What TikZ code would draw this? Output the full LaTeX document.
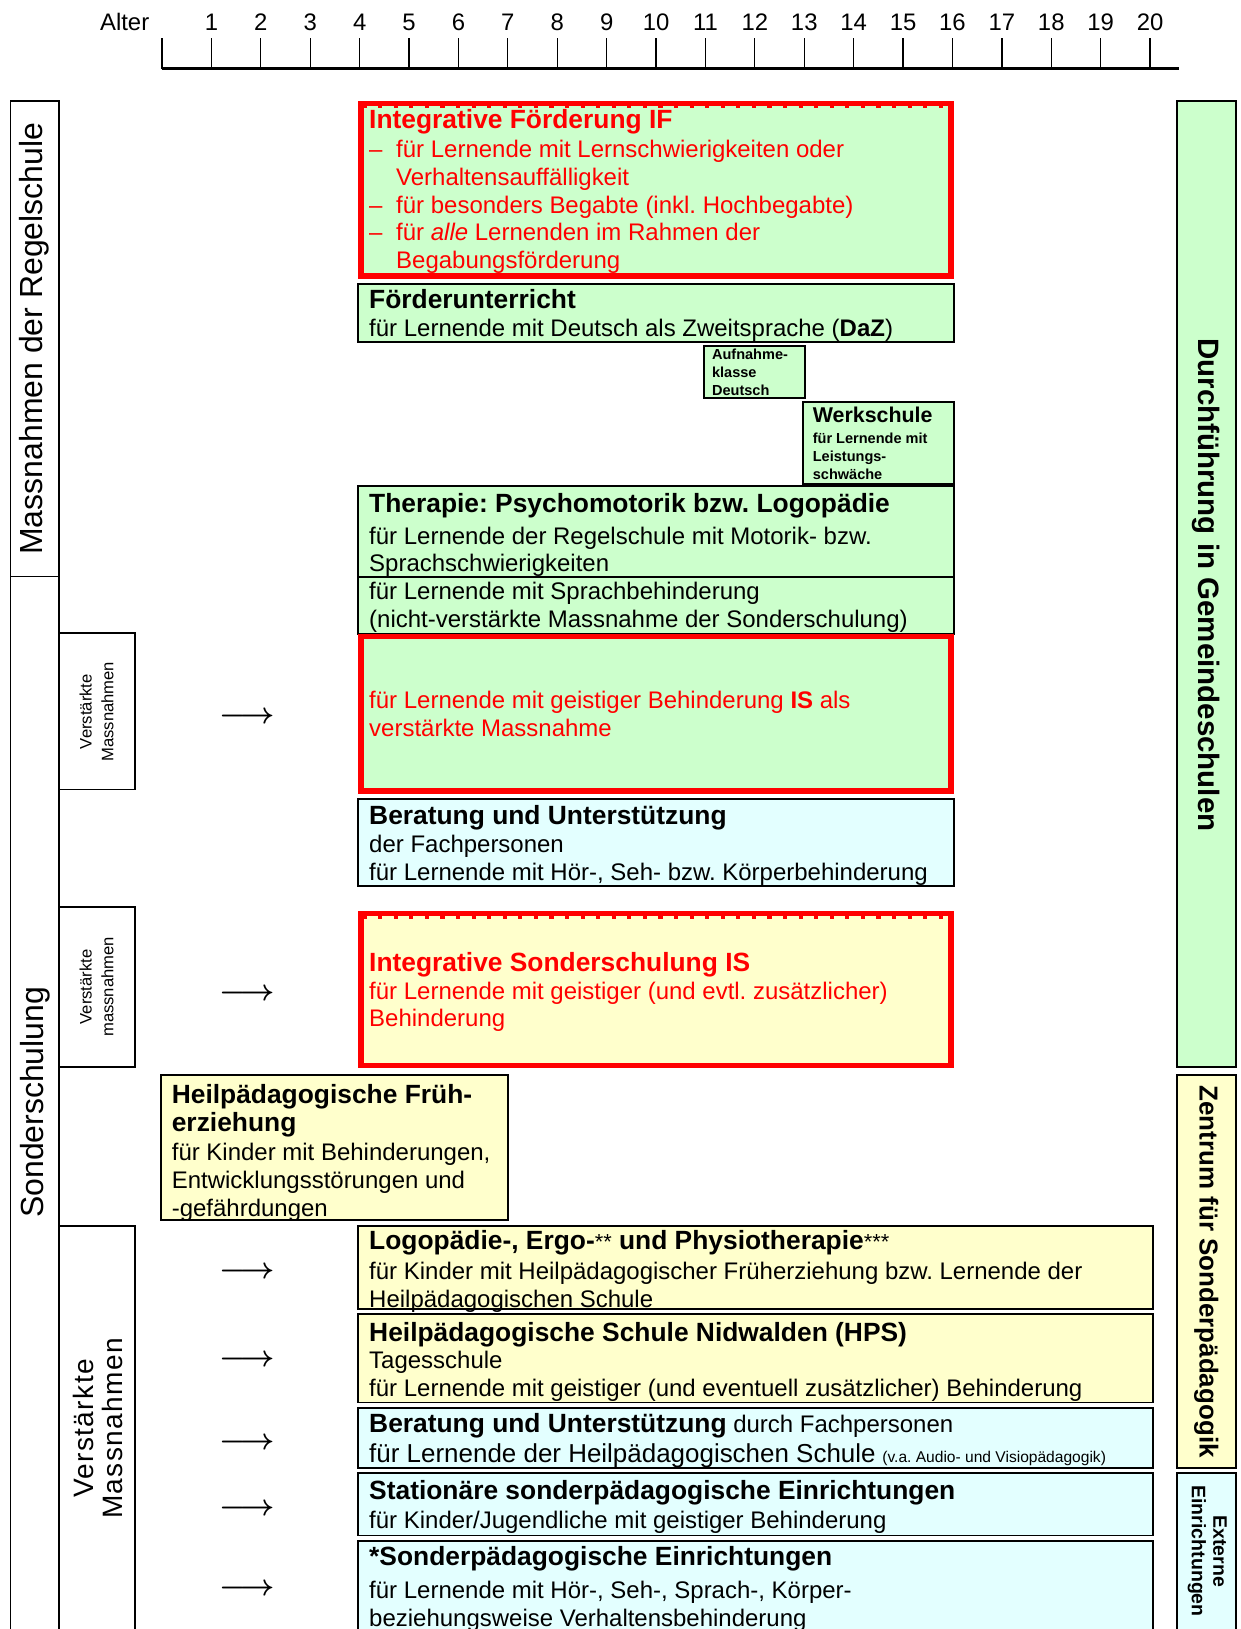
\documentclass[tikz,border=0pt]{standalone}
\usepackage{fontspec}
\setmainfont{Liberation Sans}
\usepackage{tikz}
\usetikzlibrary{positioning}
\usepackage{xcolor}

\definecolor{hgruen}{HTML}{CCFFCC}
\definecolor{hgelb}{HTML}{FFFFCC}
\definecolor{htuerkis}{HTML}{E3FFFF}

\newcommand{\titel}{\fontsize{12.7}{13.36}\selectfont\bfseries}
\newcommand{\strich}{\makebox[4.57mm][l]{--}}
\newcommand{\einzug}{\hspace*{4.57mm}}
\frenchspacing

\begin{document}
\begin{tikzpicture} [x=0.17585mm, y=-0.17585mm,
        feld/.style = {draw, line width=0.9pt},
        rotfeld/.style = {draw=red, line width=2.6pt},
        rand/.style = {draw, line width=0.8pt},
        txt/.style = {anchor=base west, align=flush left, inner sep=0pt, text width=140mm, font=\fontsize{11.55}{13.36}\selectfont},
        mini/.style = {anchor=base west, align=flush left, inner sep=0pt, text width=25mm, font=\fontsize{7}{8.6}\selectfont\bfseries},
        achse/.style = {anchor=base, inner sep=0pt, font=\fontsize{11.5}{13}\selectfont},
        seite/.style = {align=flush center, inner sep=0pt, font=\fontsize{15.4}{18}\selectfont},
        klein/.style = {align=flush center, inner sep=0pt, font=\fontsize{8}{10.5}\selectfont},
        rechts/.style = {rotate=-90, align=flush center, inner sep=0pt, font=\fontsize{14.2}{17}\selectfont\bfseries},
        pfeil/.style = {inner sep=0pt, font=\fontsize{15}{15}\selectfont\boldmath}]
        \useasboundingbox (0,0) rectangle (1194,1568);

        %Zeitachse
        \node[achse] (alter) at (120,29) {Alter};
        \draw[line width=1.2pt] (156,66) -- (1135,66);
        \draw[line width=0.6pt] (156,37) -- (156,66);
        \foreach \i in {1,...,20} {
            \node[achse] (n\i) at (156+\i*47.55,29) {\i};
            \draw[line width=0.6pt] (156+\i*47.55,37) -- (156+\i*47.55,66);
        }

        %linke Spalten
        \draw[rand] (10,97) rectangle (57,555);
        \draw[rand] (10,555) rectangle (57,1580);
        \draw[rand] (57,609) rectangle (130,760);
        \draw[rand] (57,873) rectangle (130,1027);
        \draw[rand] (57,1180) rectangle (130,1580);

        \node[seite, rotate=90] (regel) at (33,326) {Massnahmen der Regelschule};
        \node[seite, rotate=90] (sonder) at (34,1061) {Sonderschulung};
        \node[klein, rotate=90] (vm1) at (93,685) {Verstärkte\\Massnahmen};
        \node[klein, rotate=90] (vm2) at (93,950) {Verstärkte\\massnahmen};
        \node[seite, rotate=90, font=\fontsize{13.5}{14}\selectfont\addfontfeatures{LetterSpace=5}] (vm3) at (94,1375) {Verstärkte\\Massnahmen};

        %rechte Spalte
        \draw[rand, fill=hgruen] (1133,97) rectangle (1190,1027);
        \draw[rand, fill=hgelb] (1133,1035) rectangle (1190,1413);
        \draw[rand, fill=htuerkis] (1133,1418) rectangle (1190,1580);

        \node[rechts] (gemeinde) at (1161,563) {Durchführung in Gemeindeschulen};
        \node[rechts, font=\fontsize{12.5}{15}\selectfont\bfseries] (zentrum) at (1161,1224) {Zentrum für Sonderpädagogik};
        \node[rechts, font=\fontsize{9.4}{10.4}\selectfont\bfseries] (extern) at (1162,1493) {Externe\\Einrichtungen};

        %Regelschule
        \draw[rotfeld, fill=hgruen] (347.5,99.5) rectangle (915.5,265.5);
        \draw[red, line width=1.2pt, dash pattern=on 2pt off 5.5pt] (349,103) -- (914,103);
        \node[txt, text=red] (if) at (355,124) {{\titel Integrative Förderung IF}\\[0.5pt]
            \strich für Lernende mit Lernschwierigkeiten oder\\
            \einzug Verhaltensauffälligkeit\\
            \strich für besonders Begabte (inkl. Hochbegabte)\\
            \strich für \textit{alle} Lernenden im Rahmen der\\
            \einzug Begabungsförderung};

        \draw[feld, fill=hgruen] (345,273) rectangle (918,329);
        \node[txt] (daz) at (355,297) {{\titel Förderunterricht}\\
            für Lernende mit Deutsch als Zweitsprache (\textbf{DaZ})};

        \draw[feld, fill=hgruen] (678,333) rectangle (775,383);
        \node[mini] (aufnahme) at (685,346) {Aufnahme-\\klasse\\Deutsch};

        \draw[feld, fill=hgruen] (773,387) rectangle (918,466);
        \node[mini] (werk) at (782,407) {{\fontsize{10.3}{8.6}\selectfont Werkschule}\\[1.5pt]
            für Lernende mit\\Leistungs-\\schwäche};

        \draw[feld, fill=hgruen] (345,468) rectangle (918,555);
        \node[txt] (therapie) at (355,493) {{\titel Therapie: Psychomotorik bzw. Logopädie}\\[2pt]
            für Lernende der Regelschule mit Motorik- bzw.\\
            Sprachschwierigkeiten};

        %Sonderschulung
        \draw[feld, fill=hgruen] (345,555) rectangle (918,610);
        \node[txt] (sprach) at (355,577) {für Lernende mit Sprachbehinderung\\
            (nicht-verstärkte Massnahme der Sonderschulung)};

        \draw[rotfeld, fill=hgruen] (347.5,612.5) rectangle (915.5,761.5);
        \node[txt, text=red] (isgr) at (355,682) {für Lernende mit geistiger Behinderung \textbf{IS} als\\
            verstärkte Massnahme};

        \draw[feld, fill=htuerkis] (345,769) rectangle (918,853);
        \node[txt] (beratung) at (355,794) {{\titel Beratung und Unterstützung}\\
            der Fachpersonen\\
            für Lernende mit Hör-, Seh- bzw. Körperbehinderung};

        \draw[rotfeld, fill=hgelb] (347.5,879.5) rectangle (915.5,1025.5);
        \draw[red, line width=1.2pt, dash pattern=on 2pt off 5.5pt] (349,883) -- (914,883);
        \node[txt, text=red] (isgelb) at (355,935) {{\titel Integrative Sonderschulung IS}\\
            für Lernende mit geistiger (und evtl. zusätzlicher)\\
            Behinderung};

        \draw[feld, fill=hgelb] (155,1035) rectangle (489,1174);
        \node[txt] (frueh) at (165,1062) {{\titel Heilpädagogische Früh-}\\
            {\titel erziehung}\\[1pt]
            für Kinder mit Behinderungen,\\
            Entwicklungsstörungen und\\
            -gefährdungen};

        \draw[feld, fill=hgelb] (345,1180) rectangle (1110,1260);
        \node[txt] (logo) at (355,1203) {{\titel Logopädie-, Ergo-{\mdseries\fontsize{10.5}{9}\selectfont **} und Physiotherapie{\mdseries\fontsize{10.5}{9}\selectfont ***}}\\[1pt]
            für Kinder mit Heilpädagogischer Früherziehung bzw. Lernende der\\
            Heilpädagogischen Schule};

        \draw[feld, fill=hgelb] (345,1265) rectangle (1110,1350);
        \node[txt] (hps) at (355,1291) {{\titel Heilpädagogische Schule Nidwalden (HPS)}\\
            Tagesschule\\
            für Lernende mit geistiger (und eventuell zusätzlicher) Behinderung};

        \draw[feld, fill=htuerkis] (345,1355) rectangle (1110,1413);
        \node[txt] (berhps) at (355,1379) {{\titel Beratung und Unterstützung} durch Fachpersonen\\[1pt]
            {\fontsize{12.5}{13.36}\selectfont für Lernende der Heilpädagogischen Schule} {\fontsize{7.5}{9}\selectfont (v.a. Audio- und Visiopädagogik)}};

        \draw[feld, fill=htuerkis] (345,1418) rectangle (1110,1478);
        \node[txt] (station) at (355,1443) {{\titel Stationäre sonderpädagogische Einrichtungen}\\[1pt]
            für Kinder/Jugendliche mit geistiger Behinderung};

        \draw[feld, fill=htuerkis] (345,1483) rectangle (1110,1580);
        \node[txt] (spezial) at (355,1507) {{\titel *Sonderpädagogische Einrichtungen}\\[2.5pt]
            für Lernende mit Hör-, Seh-, Sprach-, Körper-\\
            beziehungsweise Verhaltensbehinderung};

        %Pfeile
        \foreach \y/\n in {691/1, 957/2, 1225/3, 1310/4, 1390/5, 1453/6, 1530/7}
            \node[pfeil] (pf\n) at (238,\y) {$\longrightarrow$};

    \end{tikzpicture}
\end{document}
